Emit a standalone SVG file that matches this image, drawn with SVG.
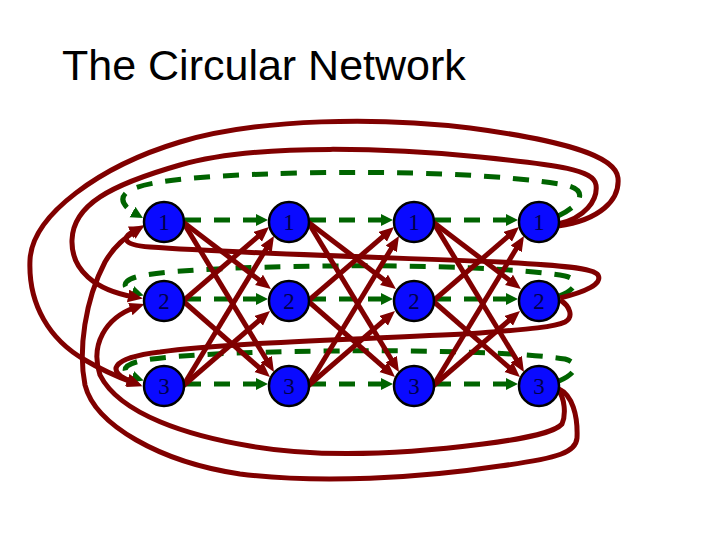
<svg xmlns="http://www.w3.org/2000/svg" width="720" height="540" viewBox="0 0 720 540">
<style>
.g{fill:none;stroke:#006400;stroke-width:5;stroke-dasharray:16 13;marker-end:url(#ga)}
.r{fill:none;stroke:#800000;stroke-width:5;marker-end:url(#ra)}
.n circle{fill:#0a0aff;stroke:#000;stroke-width:2.5}
.n text{font-family:"Liberation Serif",serif;font-size:23px;fill:#00004a;text-anchor:middle}
.t{font-family:"Liberation Sans",Arial,sans-serif;font-size:43px;fill:#000}
</style>
<defs>
<marker id="ra" markerUnits="userSpaceOnUse" markerWidth="16" markerHeight="14" refX="6" refY="6.5" orient="auto" viewBox="0 0 16 14"><path d="M0,0 L15,6.5 L0,13 z" fill="#800000"/></marker>
<marker id="ga" markerUnits="userSpaceOnUse" markerWidth="13" markerHeight="13" refX="4" refY="6" orient="auto" viewBox="0 0 13 13"><path d="M0,0 L12,6 L0,12 z" fill="#006400"/></marker>
</defs>
<rect width="720" height="540" fill="#fff"/>
<text class="t" x="62" y="80">The Circular Network</text>
<g id="connectors">
<g id="green">
<path class="g" d="M185,220 L260,220"/>
<path class="g" d="M310,220 L385,220"/>
<path class="g" d="M435,220 L510,220"/>
<path class="g" d="M185,299 L260,299"/>
<path class="g" d="M310,299 L385,299"/>
<path class="g" d="M435,299 L510,299"/>
<path class="g" d="M185,384 L260,384"/>
<path class="g" d="M310,384 L385,384"/>
<path class="g" d="M435,384 L510,384"/>
<path class="g" d="M558,216 C580,206 590,190 565,185 C500,174 400,171 300,173 C210,175 150,180 130,190 C118,197 122,206 136,214"/>
<path class="g" d="M559,296 C575,290 582,280 565,276 C520,268 420,265 330,266 C240,267 170,270 140,276 C122,280 120,288 136,293"/>
<path class="g" d="M559,381 C575,374 582,364 565,359 C520,352 420,350 330,351 C240,352 170,355 140,361 C122,365 120,373 136,378"/>
</g>
<g id="red">
<path class="r" d="M183,222 L263.8,283.5"/>
<path class="r" d="M183,222 L269.3,364.3"/>
<path class="r" d="M183,301 L262.2,232.9"/>
<path class="r" d="M183,301 L263.2,371.1"/>
<path class="r" d="M183,386 L269.3,243.7"/>
<path class="r" d="M183,386 L263.2,316.9"/>
<path class="r" d="M308,222 L388.8,283.5"/>
<path class="r" d="M308,222 L394.3,364.3"/>
<path class="r" d="M308,301 L387.2,232.9"/>
<path class="r" d="M308,301 L388.2,371.1"/>
<path class="r" d="M308,386 L394.3,243.7"/>
<path class="r" d="M308,386 L388.2,316.9"/>
<path class="r" d="M433,222 L513.8,283.5"/>
<path class="r" d="M433,222 L519.3,364.3"/>
<path class="r" d="M433,301 L512.2,232.9"/>
<path class="r" d="M433,301 L513.2,371.1"/>
<path class="r" d="M433,386 L519.3,243.7"/>
<path class="r" d="M433,386 L513.2,316.9"/>
<path class="r" d="M558,226 C600,220 620,200 618,178 C616,155 560,140 470,128 C380,117 260,118 180,142 C100,166 32,215 30,260 C28,305 50,340 85,360 C100,369 118,377 134,383"/>
<path class="r" d="M558,224 C585,218 598,200 596,185 C594,170 560,165 480,157 C400,149 260,142 180,165 C110,185 73,205 72,240 C71,270 95,290 134,297"/>
<path class="r" d="M560,298 C585,292 603,284 598,275 C594,268 560,265 500,262 C400,258 230,253 150,247 C120,245 122,236 136,230"/>
<path class="r" d="M560,300 C570,306 574,317 565,322 C555,327 530,329 480,333 C400,338 230,342 160,352 C110,358 105,372 133,382"/>
<path class="r" d="M559,389 C572,395 578,415 577,438 C576,452 560,458 500,466 C420,478 320,484 240,474 C160,462 95,425 85,385 C78,350 85,300 105,262 C115,245 125,238 137,230"/>
<path class="r" d="M558,390 C565,398 566,415 562,424 C555,432 530,438 483,444 C420,452 330,460 250,446 C190,436 120,415 100,375 C90,345 105,318 136,307"/>
</g>
</g>
<g id="n11" class="n"><circle cx="164" cy="222" r="20"/><text x="164" y="230">1</text></g>
<g id="n12" class="n"><circle cx="289" cy="222" r="20"/><text x="289" y="230">1</text></g>
<g id="n13" class="n"><circle cx="414" cy="222" r="20"/><text x="414" y="230">1</text></g>
<g id="n14" class="n"><circle cx="539" cy="222" r="20"/><text x="539" y="230">1</text></g>
<g id="n21" class="n"><circle cx="164" cy="301" r="20"/><text x="164" y="309">2</text></g>
<g id="n22" class="n"><circle cx="289" cy="301" r="20"/><text x="289" y="309">2</text></g>
<g id="n23" class="n"><circle cx="414" cy="301" r="20"/><text x="414" y="309">2</text></g>
<g id="n24" class="n"><circle cx="539" cy="301" r="20"/><text x="539" y="309">2</text></g>
<g id="n31" class="n"><circle cx="164" cy="386" r="20"/><text x="164" y="394">3</text></g>
<g id="n32" class="n"><circle cx="289" cy="386" r="20"/><text x="289" y="394">3</text></g>
<g id="n33" class="n"><circle cx="414" cy="386" r="20"/><text x="414" y="394">3</text></g>
<g id="n34" class="n"><circle cx="539" cy="386" r="20"/><text x="539" y="394">3</text></g>
</svg>
